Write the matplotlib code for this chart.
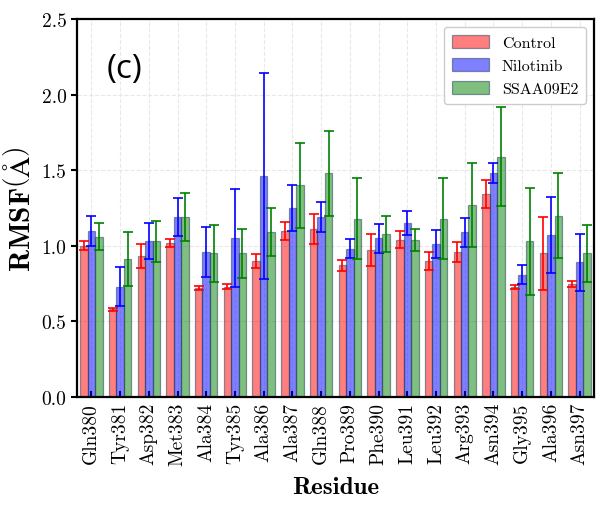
import numpy as np
import matplotlib.pyplot as plt

plt.rcParams['font.family'] = 'cmr10'
plt.rcParams['mathtext.fontset'] = 'cm'
plt.rcParams['axes.formatter.use_mathtext'] = True

residues = ['Gln380', 'Tyr381', 'Asp382', 'Met383', 'Ala384', 'Tyr385', 'Ala386',
            'Ala387', 'Gln388', 'Pro389', 'Phe390', 'Leu391', 'Leu392', 'Arg393',
            'Asn394', 'Gly395', 'Ala396', 'Asn397']

control = [1.00, 0.58, 0.93, 1.02, 0.72, 0.73, 0.90, 1.10, 1.11, 0.87, 0.97, 1.04,
           0.90, 0.96, 1.34, 0.73, 0.95, 0.75]
control_err = [0.03, 0.01, 0.08, 0.025, 0.014, 0.015, 0.044, 0.06, 0.10, 0.034, 0.105,
               0.055, 0.058, 0.065, 0.093, 0.014, 0.243, 0.02]

nilotinib = [1.10, 0.73, 1.03, 1.19, 0.96, 1.05, 1.46, 1.25, 1.19, 0.98, 1.05, 1.15,
             1.01, 1.09, 1.48, 0.81, 1.07, 0.89]
nilotinib_err = [0.10, 0.13, 0.12, 0.125, 0.165, 0.325, 0.68, 0.154, 0.097, 0.063, 0.097,
                 0.08, 0.093, 0.096, 0.065, 0.063, 0.253, 0.19]

ssaa = [1.06, 0.91, 1.03, 1.19, 0.95, 0.95, 1.09, 1.40, 1.48, 1.18, 1.08, 1.04,
        1.18, 1.27, 1.59, 1.03, 1.20, 0.95]
ssaa_err = [0.09, 0.178, 0.136, 0.16, 0.19, 0.16, 0.157, 0.282, 0.282, 0.268, 0.118,
            0.072, 0.268, 0.277, 0.329, 0.354, 0.281, 0.187]

x = np.arange(len(residues))
w = 0.26

fig = plt.figure(figsize=(6.08, 5.06), dpi=100)
ax = fig.add_axes([0.1266, 0.2134, 0.8504, 0.7471])

ax.grid(True, linestyle='--', color='#e8e8e8', linewidth=0.8, zorder=0)
ax.set_axisbelow(True)

series = [(control, control_err, 'red', 'Control', -w),
          (nilotinib, nilotinib_err, 'blue', 'Nilotinib', 0),
          (ssaa, ssaa_err, 'green', 'SSAA09E2', w)]
for vals, errs, c, lab, off in series:
    ax.bar(x + off, vals, w, color=c, alpha=0.5, edgecolor='#1a3a5a',
           linewidth=0.9, label=lab, zorder=2)
    ax.errorbar(x + off, vals, yerr=errs, fmt='none', ecolor=c, elinewidth=1.2,
                capsize=3.3, capthick=1.2, zorder=3)

ax.set_xlim(-0.5, 17.5)
ax.set_ylim(0, 2.5)
ax.set_xticks(x)
ax.set_xticklabels(residues, rotation=90, fontsize=14)
ax.set_yticks([0, 0.5, 1.0, 1.5, 2.0, 2.5])
ax.set_yticklabels(['0.0', '0.5', '1.0', '1.5', '2.0', '2.5'], fontsize=14)
ax.tick_params(axis='x', direction='in', length=4, width=1.5)
ax.tick_params(axis='y', direction='out', length=4, width=1.5)
for s in ax.spines.values():
    s.set_linewidth(1.6)

ax.set_xlabel('Residue', fontsize=18, family='cmb10', labelpad=8)
ax.set_ylabel(r'$\mathbf{RMSF}\left(\mathrm{\AA}\right)$', fontsize=21, labelpad=4)

ax.text(0.058, 0.87, '(c)', transform=ax.transAxes, fontsize=24,
        family='Open Sans', fontweight='medium', va='center', ha='left')

ax.legend(loc='upper right', fontsize=11.5, framealpha=1, edgecolor='#cccccc',
          fancybox=True, borderpad=0.5, handlelength=2.3, handleheight=0.9,
          labelspacing=0.5)

fig.savefig('out.png', dpi=100)
